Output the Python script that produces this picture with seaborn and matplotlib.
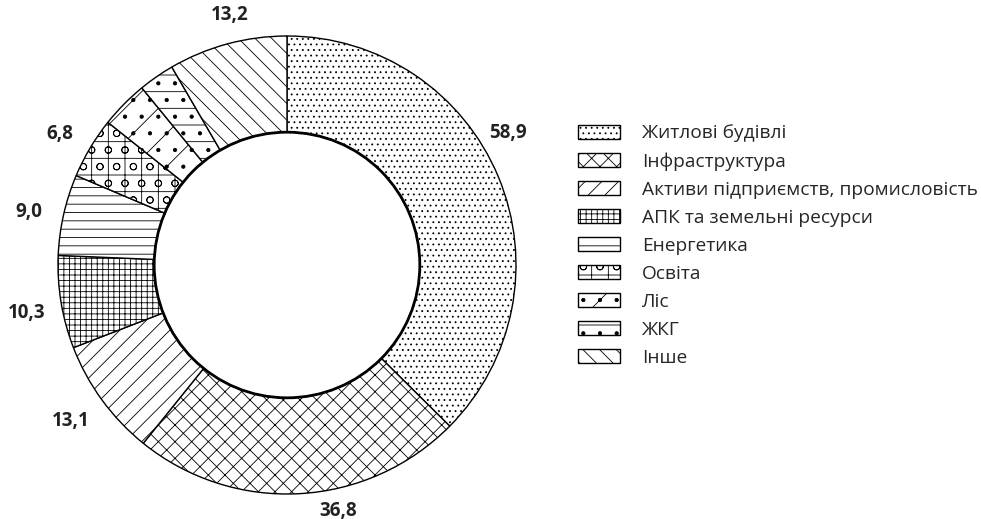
import matplotlib
matplotlib.use("Agg")
import matplotlib.pyplot as plt
import numpy as np
import seaborn as sns

# damage by sector, bn USD
categories = ["Житлові будівлі", "Інфраструктура", "Активи підприємств, промисловість",
              "АПК та земельні ресурси", "Енергетика", "Освіта", "Ліс", "ЖКГ", "Інше"]
values = [58.9, 36.8, 13.1, 10.3, 9.0, 6.8, 5.3, 4.0, 13.2]
value_labels = ["58,9", "36,8", "13,1", "10,3", "9,0", "6,8", "", "", "13,2"]
hatches = ["...", "xx", "//", "+++", "--", "+o", "/.", ".-", "\\\\"]
# angle nudges (degrees) and radii for the outside labels
label_shift = [8.2, 8.5, -0.3, 1.0, 1.1, 0.7, 0, 0, -2.1]
label_r = [1.125, 1.095, 1.166, 1.155, 1.153, 1.144, 1.15, 1.15, 1.12]

sns.set_style("white")
plt.rcParams["font.family"] = ["Open Sans", "DejaVu Sans"]
plt.rcParams["hatch.linewidth"] = 0.6
plt.rcParams["hatch.color"] = "black"

fig = plt.figure(figsize=(9.81, 5.19), dpi=100)
ax = fig.add_axes([58 / 981, 25 / 519, 458 / 981, 458 / 519])

wedges, _ = ax.pie(values, startangle=90, counterclock=False, radius=1.0,
                   wedgeprops=dict(width=0.42, edgecolor="black", linewidth=1.0,
                                   facecolor="white"))
for w, h in zip(wedges, hatches):
    w.set_hatch(h)

# thicker inner rim
ax.add_patch(plt.Circle((0, 0), 0.58, fill=False, lw=2.0, color="black"))

for w, lab, sh, r in zip(wedges, value_labels, label_shift, label_r):
    if not lab:
        continue
    ang = np.deg2rad((w.theta1 + w.theta2) / 2 + sh)
    ax.text(r * np.cos(ang), r * np.sin(ang), lab, ha="center", va="center",
            fontsize=13.5, fontweight="bold", color="#222222")

ax.set_xlim(-1, 1)
ax.set_ylim(-1, 1)
ax.set_aspect("equal")
ax.axis("off")

fig.legend(wedges, categories, loc="center left",
           bbox_to_anchor=(578 / 981, (519 - 245.5) / 519),
           frameon=False, fontsize=13.8, handlelength=2.2, handleheight=0.74,
           handletextpad=1.15, labelspacing=0.52, borderpad=0, borderaxespad=0)

fig.savefig("out.png", dpi=100, facecolor="white")
